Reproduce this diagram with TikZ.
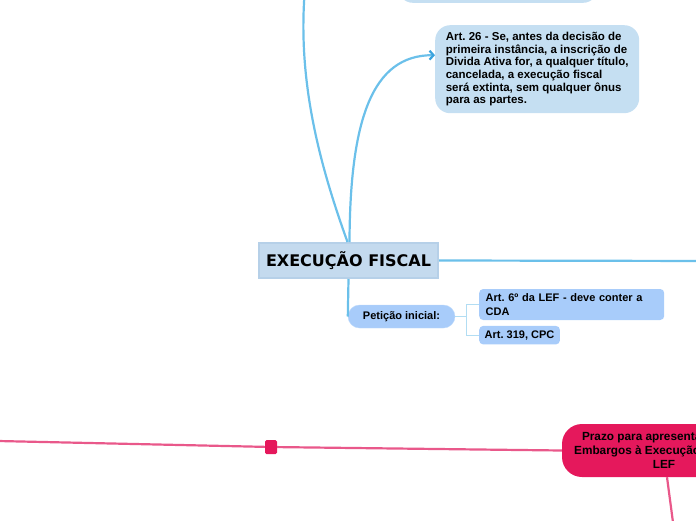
\documentclass[tikz,border=0pt]{standalone}
\usepackage{fontspec}
\setmainfont{Liberation Sans}
\newfontfamily\titlefont{DejaVu Sans}
\usetikzlibrary{positioning,arrows.meta}
\frenchspacing

\definecolor{NoteBlue}{RGB}{197,223,242}
\definecolor{TitleFill}{RGB}{196,218,238}
\definecolor{TitleEdge}{RGB}{182,208,232}
\definecolor{LinkBlue}{RGB}{107,192,234}
\definecolor{TipBlue}{RGB}{58,163,222}
\definecolor{LeafBlue}{RGB}{168,204,250}
\definecolor{LeafEdge}{RGB}{190,218,250}
\definecolor{BracketBlue}{RGB}{178,221,243}
\definecolor{Crimson}{RGB}{229,24,92}
\definecolor{PinkLine}{RGB}{233,88,138}

\begin{document}
\begin{tikzpicture}[
x=1pt, y=-1pt,
note/.style={fill=NoteBlue, rounded corners=15pt, align=left, minimum width=204pt, minimum height=88pt, font=\fontsize{11.5}{12.7}\selectfont\bfseries},
title/.style={fill=TitleFill, draw=TitleEdge, line width=2pt, minimum width=179pt, minimum height=35pt, font=\titlefont\fontsize{16}{19}\selectfont\bfseries},
topic/.style={fill=LeafBlue, draw=LeafEdge, rounded corners=11.5pt, minimum width=107pt, minimum height=23pt, font=\fontsize{11}{13}\selectfont\bfseries},
leaf/.style={fill=LeafBlue, rounded corners=4pt, align=left, anchor=west, inner xsep=6.5pt, inner ysep=2pt, font=\fontsize{11}{13.5}\selectfont\bfseries},
hot/.style={fill=Crimson, rounded corners=20pt, align=center, minimum width=204pt, minimum height=53pt, font=\fontsize{11.8}{14}\selectfont\bfseries},
link/.style={LinkBlue, line width=2.2pt},
branch/.style={BracketBlue, line width=1pt},
pinklink/.style={PinkLine, line width=2.2pt}
]
\useasboundingbox (0,0) rectangle (696,520);
\clip (0,0) rectangle (696,520);

% blue side
\node[title] (exec) at (348.5,260.5) {EXECUÇÃO FISCAL};
\node[note, anchor=south, minimum width=200pt, minimum height=60pt] (prev) at (498,3) {};
\node[note, anchor=north west] (art26) at (435,25) {Art. 26 - Se, antes da decisão de\\primeira instância, a inscrição de\\Divida Ativa for, a qualquer título,\\cancelada, a execução fiscal\\será extinta, sem qualquer ônus\\para as partes.};
\node[topic] (pet) at (401.5,316.5) {Petição inicial:};
\node[leaf, text width=172pt, minimum height=31pt] (a6) at (479,304.5) {Art. 6º da LEF - deve conter a\\CDA};
\node[leaf, inner xsep=5.5pt, minimum height=18.5pt, below right=5.5pt and 0pt of a6.south west] (a319) {Art. 319, CPC};

% pink side
\node[hot] (prazo) at (664,450.5) {Prazo para apresentação dos\\Embargos à Execução Fiscal na\\LEF};
\node[fill=Crimson, rounded corners=1.5pt, minimum width=12pt, minimum height=14pt, inner sep=0pt] (knot) at (271,447) {};

\coordinate (up) at (307,-30);
\coordinate (rightend) at (720,261);
\coordinate (westend) at (-20,440.6);
\coordinate (downend) at (676,545);

% connectors
\draw[link] ([xshift=-1pt]exec.north) .. controls (318,160) and (294,70) .. (up);
\draw[link, -{Straight Barb[length=4pt,width=9pt,color=TipBlue]}] ([xshift=1pt]exec.north) .. controls (350,120) and (372,55) .. ([yshift=14pt]art26.west);
\draw[link] (exec.east) -- (rightend);
\draw[link] (exec.south) -- (pet.west);
\draw[branch] (pet.east) -- ++(11,0) coordinate (fork);
\draw[branch] (fork) |- (a6.west);
\draw[branch] (fork) |- (a319.west);

\draw[pinklink] (westend) -- (knot) -- (prazo.west);
\draw[pinklink] ([xshift=3pt]prazo.south) -- (downend);
\end{tikzpicture}
\end{document}
